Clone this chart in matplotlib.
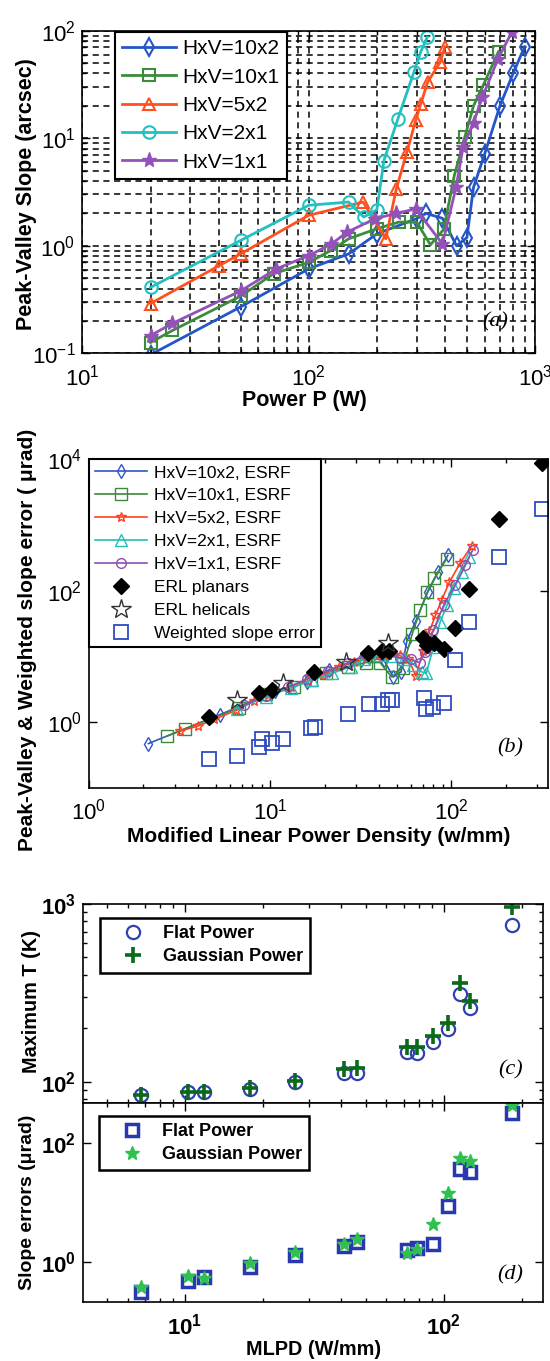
import numpy as np
import matplotlib.pyplot as plt
from matplotlib.ticker import NullLocator, FuncFormatter, NullFormatter, FixedLocator

plt.rcParams['font.family'] = ['Liberation Sans', 'DejaVu Sans']
plt.rcParams['mathtext.fontset'] = 'custom'
plt.rcParams['mathtext.rm'] = 'Liberation Sans'
plt.rcParams['mathtext.bf'] = 'Liberation Sans:bold'
plt.rcParams['mathtext.it'] = 'Liberation Sans:italic'

# ---------------- panel (a): Power P vs peak-valley slope (arcsec)
a_x_10x2 = [20, 50, 100, 150, 200, 300, 330, 390, 450, 500, 535, 600, 700, 800, 900]
a_y_10x2 = [0.097, 0.27, 0.61, 0.84, 1.29, 1.79, 2.0, 1.8, 1.0, 1.19, 3.5, 7.2, 20, 40, 71]
a_x_10x1 = [20, 25, 50, 70, 100, 125, 150, 200, 250, 300, 345, 395, 440, 490, 535, 590, 690]
a_y_10x1 = [0.126, 0.163, 0.34, 0.55, 0.70, 0.90, 1.16, 1.44, 1.66, 1.66, 1.02, 1.42, 4.5, 10.3, 20, 31, 64]
a_x_5x2 = [20, 40, 50, 100, 174, 219, 244, 272, 297, 313, 336, 381, 400]
a_y_5x2 = [0.29, 0.65, 0.84, 1.92, 2.55, 1.16, 3.4, 7.5, 14.7, 21, 33.5, 51, 71]
a_x_2x1 = [20, 50, 100, 150, 175, 200, 215, 248, 292, 313, 334]
a_y_2x1 = [0.41, 1.12, 2.38, 2.55, 1.85, 2.16, 6.2, 15.2, 41.5, 64, 87]
a_x_1x1 = [20, 25, 50, 72, 100, 126, 148, 197, 244, 297, 390, 448, 481, 535, 585, 687, 792]
a_y_1x1 = [0.146, 0.19, 0.38, 0.61, 0.81, 1.04, 1.34, 1.79, 2.0, 2.2, 1.04, 3.5, 8.3, 14, 24, 55, 98]

# ---------------- panel (b): MLPD vs P-V & weighted slope error (urad)
b_x_10x2 = [2.13, 5.3, 10.7, 16, 21.3, 32, 35, 42.6, 48, 53, 57, 64, 74.6, 85, 96]
b_y_10x2 = [0.47, 1.3, 2.95, 4.1, 6.3, 8.7, 9.7, 8.7, 4.85, 5.8, 17, 35, 97, 194, 344]
b_x_10x1 = [2.7, 3.4, 6.75, 9.5, 13.5, 16.9, 20.3, 27, 33.8, 40.5, 47, 54, 61, 67.5, 74, 81, 94.5]
b_y_10x1 = [0.61, 0.79, 1.65, 2.67, 3.4, 4.37, 5.6, 7.0, 8.05, 8.05, 4.85, 6.7, 21.8, 50, 95, 155, 305]
b_x_5x2 = [3.2, 4.0, 4.9, 6.5, 8.2, 9.8, 13, 16.3, 19.5, 24, 29, 34, 39, 45, 52, 58, 64, 70, 76, 82, 89, 98, 112, 130]
b_y_5x2 = [0.73, 0.87, 1.1, 1.5, 2.1, 2.6, 3.4, 4.2, 5.2, 7.0, 8.2, 9.3, 10.0, 10.5, 10.3, 9.2, 5.0, 12, 24, 42, 73, 135, 260, 480]
b_x_2x1 = [6.6, 9.5, 13, 17, 22, 28, 33, 40, 47, 55, 62, 69, 73, 80, 87, 95, 104, 115, 126]
b_y_2x1 = [1.6, 2.4, 3.3, 4.3, 5.5, 7.0, 9.0, 10.5, 10.0, 9.0, 7.5, 5.8, 5.5, 14, 33, 60, 110, 190, 320]
b_x_1x1 = [7.2, 9.5, 12.5, 16, 21, 27, 34, 42, 52, 60, 67, 72, 80, 91, 105, 120, 132]
b_y_1x1 = [1.8, 2.5, 3.4, 4.5, 6.0, 8.0, 10.5, 11.5, 9.5, 9.0, 8.0, 11.5, 25, 60, 120, 250, 420]
erl_planar_x = [4.6, 8.65, 10.3, 17.6, 34.9, 41.7, 45.4, 69.6, 73.5, 80.1, 91.8, 104.8, 126.4, 183, 318]
erl_planar_y = [1.21, 2.8, 3.06, 5.7, 11.3, 12.0, 12.0, 19.1, 15.1, 16.1, 13.0, 27.1, 106, 1227, 8870]
erl_helical_x = [6.6, 11.8, 26.4, 44.6]
erl_helical_y = [2.16, 3.97, 8.15, 15.7]
wse_x = [4.6, 6.6, 8.65, 9.03, 10.3, 11.8, 16.9, 17.8, 26.8, 35.2, 41.4, 45.1, 47, 70.5, 72.6, 80, 92, 104.8, 126.4, 184, 318]
wse_y = [0.278, 0.305, 0.41, 0.56, 0.475, 0.56, 0.80, 0.84, 1.31, 1.9, 1.9, 2.14, 2.14, 2.35, 1.56, 1.71, 1.97, 8.7, 33, 325, 1740]

# ---------------- panels (c), (d): MLPD vs max T and slope errors
mlpd = [6.75, 10.3, 11.8, 17.9, 26.7, 41.1, 46, 71.8, 78.5, 91, 104, 115.4, 126, 182.5]
t_flat = [84, 87, 87, 91, 100, 112.4, 112, 147.5, 145.6, 168, 197, 312, 261, 764]
t_gauss = [84.5, 87.6, 87.6, 91.5, 101, 117.5, 120, 157, 156, 179.5, 213, 361, 285, 961]
se_flat = [0.311, 0.472, 0.545, 0.82, 1.3, 1.84, 2.18, 1.58, 1.72, 1.96, 8.7, 36.4, 33.1, 321]
se_gauss = [0.378, 0.57, 0.53, 0.94, 1.47, 1.96, 2.39, 1.39, 1.62, 4.33, 14.6, 55.7, 50.2, 443]

W, H = 550, 1361
fig = plt.figure(figsize=(W / 100, H / 100), dpi=100)


def box(l, t, r, b):
    # pixel box -> figure fraction
    return [l / W, 1 - b / H, (r - l) / W, (b - t) / H]


def style(ax, size=16):
    ax.set_xscale('log')
    ax.set_yscale('log')
    ax.tick_params(which='both', direction='in', top=True, right=True,
                   labelsize=size, width=1.0)
    ax.tick_params(axis='x', which='both', pad=8)
    ax.tick_params(axis='y', which='both', pad=5)
    ax.tick_params(which='major', length=6)
    ax.tick_params(which='minor', length=3)
    for s in ax.spines.values():
        s.set_linewidth(1.2)


def sci(bold=False):
    if bold:
        return FuncFormatter(lambda v, p: r'$\mathbf{10^{%d}}$' % round(np.log10(v)))
    return FuncFormatter(lambda v, p: r'$\mathregular{10^{%d}}$' % round(np.log10(v)))


def letter(ax, x, y, s):
    ax.text(x, y, s, transform=ax.transAxes, fontsize=16,
            family='Liberation Serif', style='italic', ha='center', va='center')


# ================= (a)
ax = fig.add_axes(box(82.4, 30.7, 535, 353.3))
style(ax)
lw = 2.0
ms = 9
ax.plot(a_x_10x2, a_y_10x2, '-d', color='#2456c8', lw=lw, ms=ms, mfc='none', mew=1.5, label='HxV=10x2')
ax.plot(a_x_10x1, a_y_10x1, '-s', color='#3c8c3c', lw=lw, ms=ms, mfc='none', mew=1.5, label='HxV=10x1')
ax.plot(a_x_5x2, a_y_5x2, '-^', color='#ff5020', lw=lw, ms=ms, mfc='none', mew=1.5, label='HxV=5x2')
ax.plot(a_x_2x1, a_y_2x1, '-o', color='#22c0c0', lw=lw, ms=ms, mfc='none', mew=1.5, label='HxV=2x1')
ax.plot(a_x_1x1, a_y_1x1, '-*', color='#9352b8', lw=lw, ms=ms + 2, mew=1.0, label='HxV=1x1')
ax.set_xlim(10, 1000)
ax.set_ylim(0.1, 100)
ax.xaxis.set_major_formatter(sci())
ax.yaxis.set_major_formatter(sci())
ax.grid(True, which='both', color='black', linestyle=(0, (4, 3)), linewidth=1.1)
ax.set_axisbelow(True)
ax.set_xlabel('Power P (W)', fontsize=15.5, fontweight='bold')
ax.set_ylabel('Peak-Valley Slope (arcsec)', fontsize=15.5, fontweight='bold')
ax.yaxis.set_label_coords(-0.101, 0.495)
ax.xaxis.set_label_coords(0.49, -0.114)
leg = ax.legend(loc='upper left', bbox_to_anchor=(0.072, 0.996), borderaxespad=0,
                fontsize=15, numpoints=1, handlelength=2.6, labelspacing=0.45,
                fancybox=False, framealpha=1, edgecolor='black', borderpad=0.35,
                handletextpad=0.3)
leg.get_frame().set_linewidth(1.5)
letter(ax, 0.911, 0.098, '(a)')

# ================= (b)
ax = fig.add_axes(box(89, 459.3, 547.7, 787.7))
style(ax)
lw = 1.2
ax.plot(b_x_10x2, b_y_10x2, '-d', color='#3056c8', lw=lw, ms=7, mfc='none', mew=1.0, label='HxV=10x2, ESRF')
ax.plot(b_x_10x1, b_y_10x1, '-s', color='#3a8a3a', lw=lw, ms=8, mfc='none', mew=1.0, label='HxV=10x1, ESRF')
ax.plot(b_x_5x2, b_y_5x2, '-*', color='#ff4020', lw=lw, ms=7, mfc='none', mew=1.0, label='HxV=5x2, ESRF')
ax.plot(b_x_2x1, b_y_2x1, '-^', color='#20c0b8', lw=lw, ms=8, mfc='none', mew=1.0, label='HxV=2x1, ESRF')
ax.plot(b_x_1x1, b_y_1x1, '-o', color='#8e4fb0', lw=lw, ms=7, mfc='none', mew=1.0, label='HxV=1x1, ESRF')
ax.plot(erl_planar_x, erl_planar_y, 'D', color='black', ms=8, ls='none', label='ERL planars')
ax.plot(erl_helical_x, erl_helical_y, '*', color='#333333', mfc='none', ms=15, mew=1.0, ls='none', label='ERL helicals')
ax.plot(wse_x, wse_y, 's', color='#2e4cc0', mfc='none', ms=9.5, mew=1.3, ls='none', label='Weighted slope error')
ax.set_xlim(1, 342)
ax.set_ylim(0.1, 1e4)
ax.yaxis.set_major_locator(FixedLocator([1, 1e2, 1e4]))
ax.yaxis.set_minor_locator(NullLocator())
ax.xaxis.set_major_formatter(sci())
ax.yaxis.set_major_formatter(sci())
ax.set_xlabel('Modified Linear Power Density (w/mm)', fontsize=15, fontweight='bold')
ax.set_ylabel('Peak-Valley & Weighted slope error ( \u03bcrad)', fontsize=15, fontweight='bold')
ax.yaxis.set_label_coords(-0.114, 0.45)
ax.xaxis.set_label_coords(0.5, -0.12)
leg = ax.legend(loc='upper left', bbox_to_anchor=(0, 1), borderaxespad=0,
                fontsize=12.5, numpoints=1, handlelength=3.0, labelspacing=0.45,
                fancybox=False, framealpha=1, edgecolor='black', borderpad=0.35,
                handletextpad=0.4)
leg.get_frame().set_linewidth(1.5)
letter(ax, 0.918, 0.121, '(b)')

# ================= (c)
axc = fig.add_axes(box(83.3, 904, 543.3, 1103.3))
style(axc)
axc.plot(mlpd, t_flat, 'o', color='#3040b0', mfc='none', ms=9.5, mew=1.6, ls='none', label='Flat Power')
axc.plot(mlpd, t_gauss, '+', color='#0a6a1a', ms=11, mew=2.6, ls='none', label='Gaussian Power')
axc.set_xlim(4.05, 242)
axc.set_ylim(75.5, 1000)
axc.yaxis.set_major_locator(FixedLocator([1e2, 1e3]))
axc.xaxis.set_major_formatter(NullFormatter())
axc.yaxis.set_major_formatter(sci(True))
axc.set_ylabel('Maximum T (K)', fontsize=14.3, fontweight='bold')
axc.yaxis.set_label_coords(-0.092, 0.509)
leg = axc.legend(loc='upper left', bbox_to_anchor=(0.036, 0.93), borderaxespad=0,
                 numpoints=1, handlelength=2.9, labelspacing=0.35,
                 fancybox=False, framealpha=1, edgecolor='black', borderpad=0.4,
                 handletextpad=0.2, prop={'weight': 'bold', 'size': 13})
leg.get_frame().set_linewidth(1.8)
letter(axc, 0.928, 0.167, '(c)')

# ================= (d)
axd = fig.add_axes(box(83.3, 1103.3, 543.3, 1302.3))
style(axd)
axd.plot(mlpd, se_flat, 's', color='#2a38b0', mfc='none', ms=8.5, mew=2.5, ls='none', label='Flat Power')
axd.plot(mlpd, se_gauss, '*', color='#30c050', ms=10, mew=1.0, ls='none', label='Gaussian Power')
axd.set_xlim(4.05, 242)
axd.set_ylim(0.206, 474)
axd.yaxis.set_major_locator(FixedLocator([1, 1e2]))
axd.yaxis.set_minor_locator(NullLocator())
axd.xaxis.set_major_formatter(sci(True))
axd.yaxis.set_major_formatter(sci(True))
axd.set_xlabel('MLPD (W/mm)', fontsize=14.3, fontweight='bold')
axd.set_ylabel('Slope errors (\u03bcrad)', fontsize=14, fontweight='bold')
axd.yaxis.set_label_coords(-0.103, 0.504)
axd.xaxis.set_label_coords(0.5, -0.19)
leg = axd.legend(loc='upper left', bbox_to_anchor=(0.034, 0.938), borderaxespad=0,
                 numpoints=1, handlelength=2.9, labelspacing=0.35,
                 fancybox=False, framealpha=1, edgecolor='black', borderpad=0.4,
                 handletextpad=0.2, prop={'weight': 'bold', 'size': 13})
leg.get_frame().set_linewidth(1.8)
letter(axd, 0.928, 0.137, '(d)')

fig.savefig('out.png', dpi=100)
